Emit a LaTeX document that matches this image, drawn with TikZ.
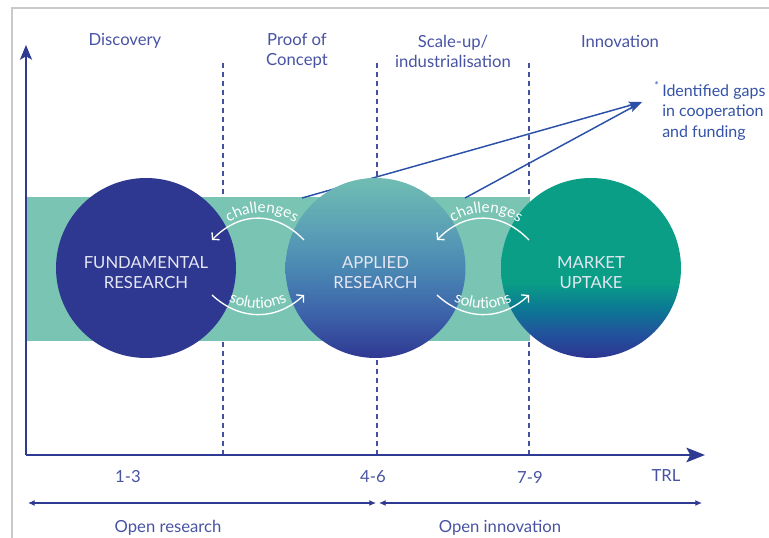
\documentclass[tikz,border=0pt]{standalone}
\usepackage{fontspec}
\setmainfont{Lato}
\usetikzlibrary{arrows.meta,decorations.text,calc}

% palette
\definecolor{navy}{HTML}{2E3891}
\definecolor{axisblue}{HTML}{2F3B93}
\definecolor{labelblue}{HTML}{4853A3}
\definecolor{dashblue}{HTML}{4450A0}
\definecolor{band}{HTML}{7AC4B4}
\definecolor{gapblue}{HTML}{2A50A8}
\definecolor{gaptext}{HTML}{3352A8}
\definecolor{framegray}{HTML}{CACACA}
\definecolor{circtext}{HTML}{E4E6F2}
% applied research gradient
\definecolor{apbot}{HTML}{2F3892}
\definecolor{aplow}{HTML}{3C62AA}
\definecolor{apmid}{HTML}{4A88B3}
\definecolor{aphigh}{HTML}{5DA3B5}
\definecolor{aptop}{HTML}{70BDB3}
% market uptake gradient
\definecolor{mkbot}{HTML}{2E3592}
\definecolor{mklow}{HTML}{21549C}
\definecolor{mkmid}{HTML}{0B7A94}
\definecolor{mktop}{HTML}{0A9E86}

\pgfdeclareverticalshading{appliedshade}{100bp}{%
  color(0bp)=(apbot); color(25bp)=(apbot); color(37bp)=(aplow);
  color(50bp)=(apmid); color(62bp)=(aphigh); color(75bp)=(aptop);
  color(100bp)=(aptop)}
\pgfdeclareverticalshading{marketshade}{100bp}{%
  color(0bp)=(mkbot); color(25bp)=(mkbot); color(32bp)=(mklow);
  color(39bp)=(mkmid); color(46bp)=(mktop); color(100bp)=(mktop)}

\newcommand{\flowfont}{\fontsize{11.5}{13}\selectfont}

\begin{document}
\begin{tikzpicture}[x=0.75pt,y=0.75pt,
  axisline/.style={axisblue, line width=1.5pt},
  phase/.style={dashblue, line width=1.1pt, dash pattern=on 3.75pt off 3pt},
  phaselabel/.style={labelblue, align=center, font=\fontsize{12.5}{15}\selectfont},
  ticklabel/.style={labelblue, font=\fontsize{12.5}{15}\selectfont},
  circ/.style={circle, minimum size=135pt, inner sep=0pt},
  circlabel/.style={circtext, align=center, font=\fontsize{12.5}{15}\selectfont},
  flow/.style={white, line width=1pt, -{Straight Barb[length=3.5pt,width=8pt]}},
  flowtext/.style={decorate, decoration={text along path, text align=center,
      text color=white, text={|\flowfont|#1}}},
  span/.style={axisblue, line width=0.9pt, {Latex[length=5pt,width=4.5pt]}-{Latex[length=5pt,width=4.5pt]}},
  gapline/.style={gapblue, line width=1.1pt, -{Stealth[length=10pt,width=6pt,inset=2pt]}},
]
\useasboundingbox (0,0) rectangle (769,-538);

% outer frame
\draw[framegray, line width=1.5pt] (12,-538) -- (12,-8) -- (769,-8);

% phase separators
\coordinate (d1t) at (223,-63);  \coordinate (d1b) at (223,-455);
\coordinate (d2t) at (377,-63);  \coordinate (d2b) at (377,-455);
\coordinate (d3t) at (529,-63);  \coordinate (d3b) at (529,-455);
\draw[phase] (d1t) -- (d1b);
\draw[phase] (d2t) -- (d2b);
\draw[phase] (d3t) -- (d3b);

% collaboration band
\fill[band] (27,-197) rectangle (530,-341);

% axes
\coordinate (O) at (26,-455);
\coordinate (ytip) at (26,-45);
\coordinate (xtip) at (705,-455);
\draw[axisline, -{Stealth[length=11pt,width=9pt,inset=2.5pt]}] (O) -- (ytip);
\draw[axisline, -{Stealth[length=14pt,width=11pt,inset=3pt]}] (O) -- (xtip);

% phase titles
\node[phaselabel] (discovery) at (125,-41) {Discovery};
\node[phaselabel] (proof) at (297,-51) {Proof of\\Concept};
\node[phaselabel] (scale) at (453,-51) {Scale-up/\\industrialisation};
\node[phaselabel] (innovation) at (620,-41) {Innovation};

% gap annotation
\coordinate (gaptip) at (642,-102);
\coordinate (gapA) at (302,-198);
\coordinate (gapB) at (465,-198);
\draw[gapline] (gapA) -- (gaptip);
\draw[gapline] (gapB) -- (gaptip);
\node[gaptext, anchor=north west, align=left, inner sep=0pt,
      font=\fontsize{12}{15.3}\selectfont] (gaps) at (662,-81)
  {\llap{\raisebox{1pt}{\textsuperscript{*}}\,}Identified gaps\\in cooperation\\and funding};

% research stages
\node[circ, fill=navy] (fund) at (146,-268) {};
\node[circ, shading=appliedshade] (app) at (375.5,-268) {};
\node[circ, shading=marketshade] (mkt) at (591,-268) {};
\node[circlabel] (fundtext) at ($(fund.center)+(0,-5)$) {FUNDAMENTAL\\RESEARCH};
\node[circlabel] (apptext) at ($(app.center)+(0,-5)$) {APPLIED\\RESEARCH};
\node[circlabel] (mkttext) at ($(mkt.center)+(0,-5)$) {MARKET\\UPTAKE};

% challenges / solutions between fundamental and applied research
\coordinate (c1s) at (304,-240); \coordinate (c1e) at (212,-240);
\coordinate (s1s) at (212,-295); \coordinate (s1e) at (304,-295);
\draw[flow] (c1s) .. controls (276,-211) and (240,-211) .. (c1e);
\draw[flow] (s1s) .. controls (240,-321) and (276,-321) .. (s1e);
\path[flowtext=challenges] (214,-235) .. controls (243,-205) and (281,-205) .. (310,-235);
\path[flowtext=solutions] (210,-289) .. controls (239,-315) and (277,-315) .. (306,-289);

% challenges / solutions between applied research and market uptake
\coordinate (c2s) at (529,-240); \coordinate (c2e) at (437,-240);
\coordinate (s2s) at (437,-295); \coordinate (s2e) at (529,-295);
\draw[flow] (c2s) .. controls (501,-211) and (465,-211) .. (c2e);
\draw[flow] (s2s) .. controls (465,-321) and (501,-321) .. (s2e);
\path[flowtext=challenges] (438,-235) .. controls (467,-205) and (505,-205) .. (534,-235);
\path[flowtext=solutions] (435,-289) .. controls (464,-315) and (502,-315) .. (531,-289);

% TRL axis labels
\node[ticklabel] (trl13) at (128,-477) {1-3};
\node[ticklabel] (trl46) at (373,-477) {4-6};
\node[ticklabel] (trl79) at (530,-477) {7-9};
\node[ticklabel] (trl) at (666,-476) {TRL};

% openness spans
\coordinate (r1) at (28,-503); \coordinate (r2) at (376,-503);
\coordinate (i1) at (379,-503); \coordinate (i2) at (702,-503);
\draw[span] (r1) -- (r2);
\draw[span] (i1) -- (i2);
\node[ticklabel] (openres) at (168,-528) {Open research};
\node[ticklabel] (openinn) at (500,-528) {Open innovation};
\end{tikzpicture}
\end{document}
